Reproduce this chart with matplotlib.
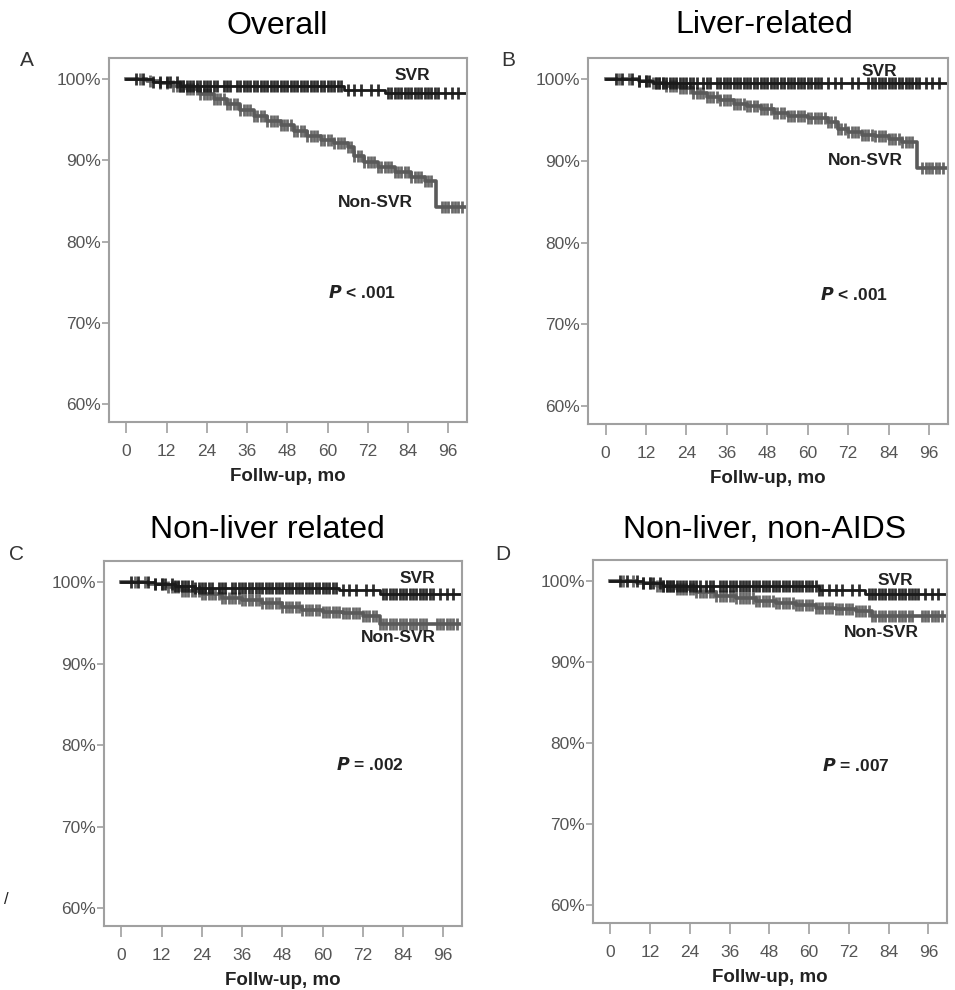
import numpy as np
import matplotlib.pyplot as plt

plt.rcParams['font.family'] = ['Liberation Sans', 'DejaVu Sans']

W, H = 955, 990

# ---- data ----
titles = ['Overall', 'Liver-related', 'Non-liver related', 'Non-liver, non-AIDS']
letters = ['A', 'B', 'C', 'D']
p_texts = [r'$\bfit{P}$ < .001', r'$\bfit{P}$ < .001', r'$\bfit{P}$ = .002', r'$\bfit{P}$ = .007']
xticks = [0, 12, 24, 36, 48, 60, 72, 84, 96]
yticks = [60, 70, 80, 90, 100]
end_time = 101.5

# step curves: times where survival changes, survival (%) from that time on
svr_t = [
    [0, 8, 16, 65, 77],
    [0, 10, 14],
    [0, 10, 16, 22, 65, 77],
    [0, 10, 16, 63, 77],
]
svr_s = [
    [100, 99.7, 99.1, 98.7, 98.3],
    [100, 99.8, 99.5],
    [100, 99.8, 99.5, 99.3, 99.0, 98.5],
    [100, 99.8, 99.4, 98.9, 98.4],
]
nonsvr_t = [
    [0, 6, 10, 14, 18, 22, 26, 30, 34, 38, 42, 46, 50, 54, 58, 62, 66, 68, 71, 75, 80, 85, 89, 92.5],
    [0, 10, 14, 18, 22, 26, 30, 34, 38, 42, 46, 50, 54, 60, 66, 69, 72, 76, 80, 84, 88, 92.5],
    [0, 8, 14, 18, 24, 30, 36, 42, 48, 54, 60, 66, 72, 77],
    [0, 8, 14, 20, 26, 32, 38, 44, 50, 56, 62, 68, 74, 79],
]
nonsvr_s = [
    [100, 99.8, 99.5, 99.2, 98.8, 98.2, 97.5, 96.9, 96.2, 95.5, 94.8, 94.3, 93.6, 93.0, 92.5, 92.2, 91.7,
     90.6, 89.8, 89.2, 88.6, 88.0, 87.5, 84.3],
    [100, 99.8, 99.5, 99.2, 98.9, 98.3, 97.8, 97.4, 97.0, 96.7, 96.3, 95.9, 95.5, 95.2, 94.8, 93.9, 93.5,
     93.2, 93.0, 92.7, 92.3, 89.1],
    [100, 99.8, 99.4, 98.9, 98.5, 98.1, 97.8, 97.4, 97.0, 96.6, 96.4, 96.2, 95.9, 94.9],
    [100, 99.8, 99.4, 99.0, 98.6, 98.2, 97.9, 97.6, 97.3, 97.0, 96.7, 96.5, 96.3, 95.7],
]

# censoring times (months)
svr_censor = [3, 5, 8, 10, 12, 13, 15, 16, 17, 18, 19, 20, 21, 22, 23, 24, 25, 26, 27, 29, 30, 31, 33,
              34, 35, 36, 37, 38, 39, 40, 41, 42, 43, 44, 45, 46, 47, 48, 49, 50, 51, 52, 53, 54, 55,
              56, 57, 58, 59, 60, 61, 62, 63, 64, 66, 68, 70, 73, 75, 78, 79, 80, 81, 82, 83, 84, 85,
              86, 87, 88, 89, 90, 91, 92, 93, 95, 97, 99]
nonsvr_censor = [4, 7, 10, 12, 14, 15, 16, 17, 18, 19, 20, 21, 22, 23, 24, 25, 26, 27, 28, 29, 30, 31,
                 32, 33, 34, 35, 36, 37, 38, 39, 40, 41, 42, 43, 44, 45, 46, 47, 48, 49, 50, 51, 52, 53,
                 54, 55, 56, 57, 58, 59, 60, 61, 62, 63, 64, 65, 66, 67, 68, 69, 70, 71, 72, 73, 74, 75,
                 76, 77, 78, 79, 80, 81, 82, 83, 84, 85, 86, 87, 88, 89, 90, 91, 94, 95, 96, 97, 98, 99, 100]

# label positions in data units: (x, y) for SVR, Non-SVR, P
svr_lab = [(85.3, 100.5), (81.1, 101.0), (88.2, 100.4), (86.1, 100.1)]
non_lab = [(74.2, 84.8), (77.2, 90.0), (82.5, 93.2), (81.9, 93.7)]
p_lab = [(70.4, 73.7), (73.6, 73.7), (74.2, 77.6), (74.1, 77.2)]

# axes boxes in pixels: left, top, right, bottom
boxes = [(109, 58, 467, 422), (588, 58, 948, 424), (104, 561, 462, 926), (593, 560, 947, 923)]
title_pos = [(277, 34), (764, 33), (267, 538), (765, 538)]
letter_pos = [(27, 60), (508, 60), (16, 555), (503, 555)]

svr_col = '#1a1a1a'
non_col = '#5a5a5a'
spine_col = '#a0a0a0'
tick_col = '#555555'

fig = plt.figure(figsize=(W / 100, H / 100), dpi=100)


def km(ax, t, s, censor, color, lw, ms):
    tt = list(t) + [end_time]
    ss = list(s) + [s[-1]]
    ax.step(tt, ss, where='post', color=color, lw=lw, clip_on=True)
    idx = np.searchsorted(t, censor, side='right') - 1
    cy = np.array(s)[idx]
    ax.plot(censor, cy, ls='none', marker='|', ms=ms, mew=2.0, color=color, alpha=0.9)


for i in range(4):
    l, t, r, b = boxes[i]
    ax = fig.add_axes([l / W, 1 - b / H, (r - l) / W, (b - t) / H])
    km(ax, nonsvr_t[i], nonsvr_s[i], nonsvr_censor, non_col, 2.6, 9)
    km(ax, svr_t[i], svr_s[i], svr_censor, svr_col, 2.0, 8)

    ax.set_xlim(-5.2, 101.6)
    ax.set_ylim(57.8, 102.6)
    ax.set_xticks(xticks)
    ax.set_yticks(yticks)
    ax.set_yticklabels([f'{v}%' for v in yticks])
    ax.tick_params(axis='both', direction='out', colors=spine_col, labelcolor=tick_col,
                   labelsize=12.5, width=1.2)
    ax.tick_params(axis='x', length=8, pad=8)
    ax.tick_params(axis='y', length=5, pad=1)
    for sp in ax.spines.values():
        sp.set_color(spine_col)
        sp.set_linewidth(1.5)
    ax.set_xlabel('Follw-up, mo', fontsize=13.5, fontweight='bold', color='#222222', labelpad=6)

    ax.text(*svr_lab[i], 'SVR', ha='center', va='center', fontsize=12.5, fontweight='bold', color='#222222')
    ax.text(*non_lab[i], 'Non-SVR', ha='center', va='center', fontsize=12.5, fontweight='bold', color='#222222')
    ax.text(*p_lab[i], p_texts[i], ha='center', va='center', fontsize=12.5, fontweight='bold', color='#222222')

    fig.text(title_pos[i][0] / W, 1 - title_pos[i][1] / H, titles[i], ha='center', va='baseline', fontsize=23)
    fig.text(letter_pos[i][0] / W, 1 - letter_pos[i][1] / H, letters[i], ha='center', va='center',
             fontsize=15, color='#333333')

fig.text(6 / W, 1 - 900 / H, '/', ha='center', va='center', fontsize=12, color='#222222')

fig.savefig('out.png', dpi=100)
